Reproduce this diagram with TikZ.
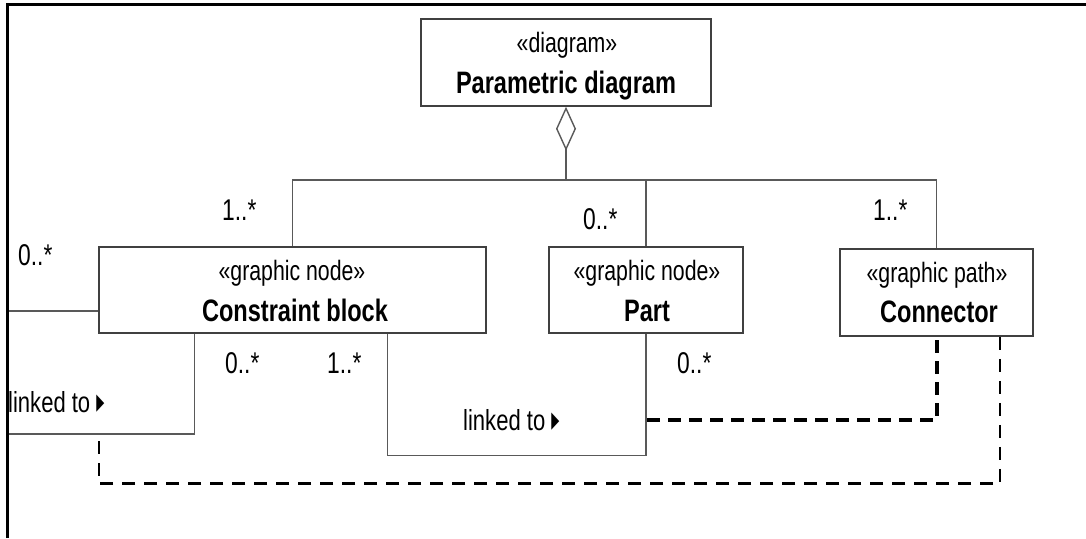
\documentclass[tikz,border=0pt]{standalone}
\usepackage{fontspec}
\usepackage{graphicx}
\setmainfont{Liberation Sans}[FakeStretch=0.76]
\newfontfamily\symf{DejaVu Sans}
\usetikzlibrary{arrows.meta}
\newcommand{\tri}{{\symf\raisebox{3pt}{\scalebox{0.36}[0.78]{▶}}}}
\begin{document}
\begin{tikzpicture}[x=1pt,y=-1pt,
  box/.style={draw=black!75, line width=1.5pt, fill=white, inner sep=0pt},
  ln/.style={draw=black!65, line width=1.4pt},
  st/.style={font=\fontsize{28}{30}\selectfont, anchor=base, inner sep=0pt},
  nm/.style={font=\bfseries\fontsize{31}{32}\selectfont, anchor=base, inner sep=0pt},
  mult/.style={font=\fontsize{30}{30}\selectfont, anchor=base west, inner sep=0pt},
  lbl/.style={font=\fontsize{29}{30}\selectfont, anchor=base west, inner sep=0pt},
  dthick/.style={line width=4pt, dash pattern=on 13pt off 8pt},
  dthin/.style={line width=2.6pt, dash pattern=on 13pt off 9pt}]
\useasboundingbox (0,0) rectangle (1086,538);

% boxes
\node[box, minimum width=290pt, minimum height=87pt] (pd) at (566,62.5) {};
\node[box, minimum width=387pt, minimum height=86pt] (cb) at (292.5,290) {};
\node[box, minimum width=194pt, minimum height=86pt] (part) at (646,290) {};
\node[box, minimum width=193pt, minimum height=87pt] (conn) at (936.5,292.5) {};

% box texts
\node[st] (pdS) at (567,52) {«diagram»};
\node[nm] (pdN) at (566,93) {Parametric diagram};
\node[st] (cbS) at (292,280) {«graphic node»};
\node[nm] (cbN) at (295,321) {Constraint block};
\node[st] (ptS) at (647,280) {«graphic node»};
\node[nm] (ptN) at (647,321) {Part};
\node[st] (cnS) at (937,282) {«graphic path»};
\node[nm] (cnN) at (939,322) {Connector};

% composition tree
\coordinate (bus) at (566,180);
\draw[ln, {Diamond[open, length=44pt, width=20pt]}-] (pd.south) -- (bus);
\draw[ln] (cb.north) |- (bus) -| (part.north);
\draw[ln] (bus) -| (conn.north);

% left association
\coordinate (L1) at (8,311);
\draw[ln] (L1 -| cb.west) -- (L1);

% self link
\coordinate (L2) at (8,434);
\draw[ln] ([xshift=96pt]cb.south west) |- (L2);

% constraint block to part
\draw[ln] ([xshift=289pt]cb.south west) -- ++(0,122) -| (part.south);

% dashed links
\coordinate (J1) at (647,420);
\coordinate (J2) at (99,434);
\draw[dthick] (J1) -| (conn.south);
\draw[dthin] ([xshift=63.5pt]conn.south) -- ++(0,147) -| (J2);

% multiplicities
\node[mult] (m1) at (222,220) {1..*};
\node[mult] (m2) at (583,229) {0..*};
\node[mult] (m3) at (873,220) {1..*};
\node[mult] (m4) at (18,265) {0..*};
\node[mult] (m5) at (225,373) {0..*};
\node[mult] (m6) at (327,373) {1..*};
\node[mult] (m7) at (677,373) {0..*};

% link labels
\node[lbl] (lk1) at (8,412) {linked to \tri};
\node[lbl] (lk2) at (463,430) {linked to \tri};

% frame
\draw[line width=3pt] (7.5,538) -- (7.5,4.5) -- (1086,4.5);
\end{tikzpicture}
\end{document}
